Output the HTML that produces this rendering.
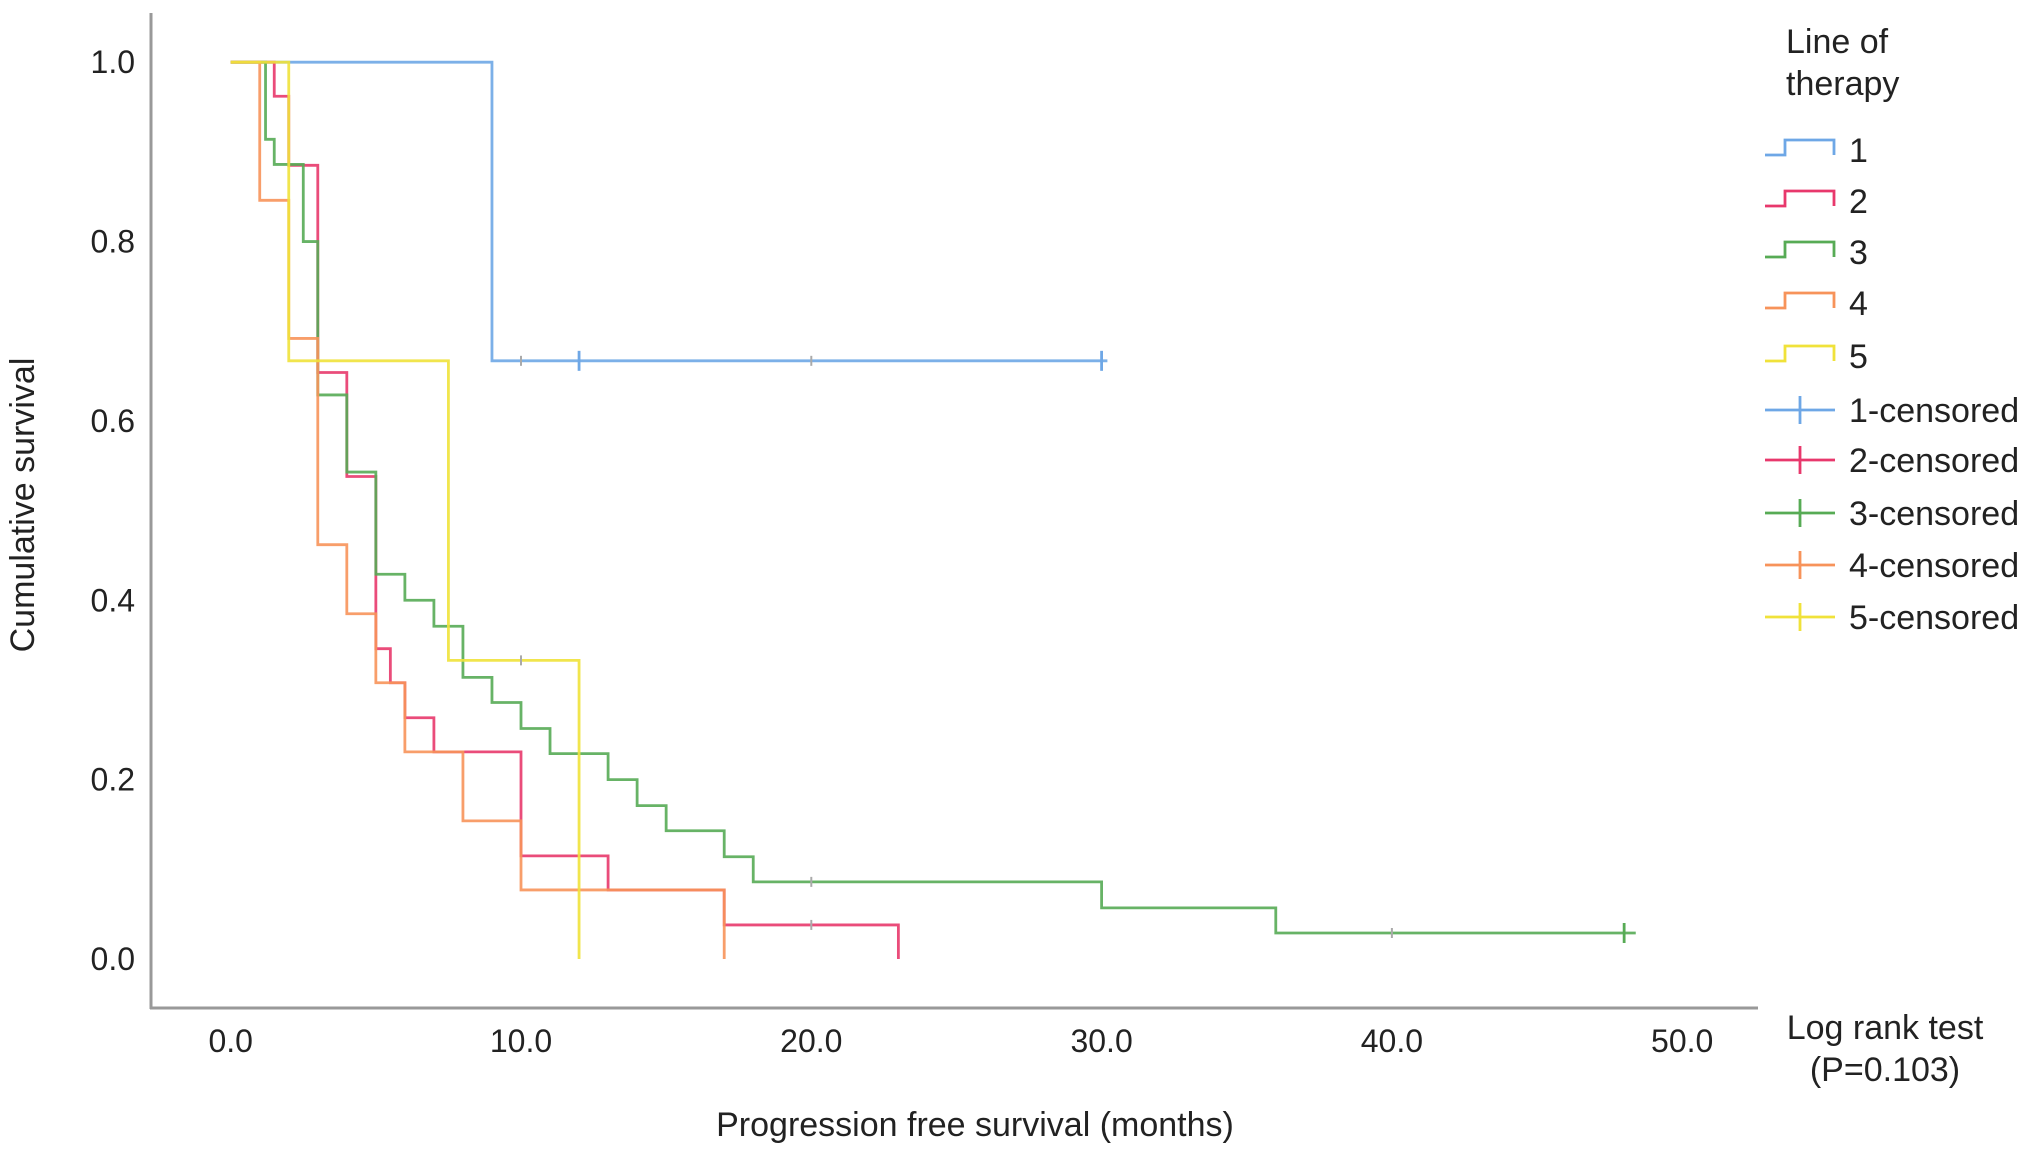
<!DOCTYPE html>
<html><head><meta charset="utf-8"><style>
body{margin:0;background:#fff;}
svg text{font-family:"Liberation Sans",Arial,sans-serif;fill:#222;}
</style></head><body>
<svg id="chart" width="2032" height="1157" viewBox="0 0 2032 1157">
<g id="axes"></g>
<g id="curves"></g>
<g id="legend"></g>
<text x="34" y="505" font-size="34" text-anchor="middle" transform="rotate(-90 34 505)">Cumulative survival</text>
<text x="975" y="1136" font-size="34" text-anchor="middle">Progression free survival (months)</text>
<text x="1885" y="1039" font-size="34" text-anchor="middle">Log rank test</text>
<text x="1885" y="1081" font-size="34" text-anchor="middle">(P=0.103)</text>
<text x="1786" y="53" font-size="34">Line of</text>
<text x="1786" y="95" font-size="34">therapy</text>
</svg>
<script>
const xTicks=[0,10,20,30,40,50];
const yTicks=[0,0.2,0.4,0.6,0.8,1.0];
const groups=["1","2","3","4","5"];
const colors=["#6ea7e6","#e8386c","#57ab55","#f7935a","#f0e23a"];
const t1=[0,9,30.2];       const s1=[1,0.667,0.667];
const t2=[0,1.5,2,3,4,5,5.5,6,7,10,13,17,23]; const s2=[1,0.962,0.885,0.654,0.538,0.346,0.308,0.269,0.231,0.115,0.077,0.038,0];
const t3=[0,1.2,1.5,2.5,3,4,5,6,7,8,9,10,11,13,14,15,17,18,30,36,48.4]; const s3=[1,0.914,0.886,0.8,0.629,0.543,0.429,0.4,0.371,0.314,0.286,0.257,0.229,0.2,0.171,0.143,0.114,0.086,0.057,0.029,0.029];
const t4=[0,1,2,3,4,5,6,8,10,17]; const s4=[1,0.846,0.692,0.462,0.385,0.308,0.231,0.154,0.077,0];
const t5=[0,2,7.5,12]; const s5=[1,0.667,0.333,0];
const censorT=[[12,30],[],[48],[],[]];
const faintT=[[10,20],[20],[20,40],[],[10]];
const times=[t1,t2,t3,t4,t5], surv=[s1,s2,s3,s4,s5];
const X=v=>230.7+v*29.03, Y=v=>959-v*896.8;
const NS="http://www.w3.org/2000/svg";
function mk(tag,at,parent){const e=document.createElementNS(NS,tag);for(const k in at)e.setAttribute(k,at[k]);parent.appendChild(e);return e;}
function sAt(i,c){const tt=times[i],ss=surv[i];let sv=ss[0];for(let k=0;k<tt.length;k++)if(tt[k]<=c)sv=ss[k];return sv;}
const axes=document.getElementById('axes');
let e=mk('line',{x1:151,y1:13,x2:151,y2:1009,stroke:'#999','stroke-width':3},axes);


e=mk('line',{x1:150,y1:1008,x2:1758,y2:1008,stroke:'#999','stroke-width':3},axes);


yTicks.forEach(v=>{const t=mk('text',{x:135,y:Y(v)+11,'font-size':32,'text-anchor':'end'},axes);t.textContent=v.toFixed(1);

});
xTicks.forEach(v=>{const t=mk('text',{x:X(v),y:1052,'font-size':32,'text-anchor':'middle'},axes);t.textContent=v.toFixed(1);

});
const curves=document.getElementById('curves');
times.forEach((tt,i)=>{const ss=surv[i];let d=`M${X(tt[0])},${Y(ss[0])}`;
for(let k=1;k<tt.length;k++){d+=` H${X(tt[k])} V${Y(ss[k])}`;}
const p=mk('path',{d:d,fill:'none',stroke:colors[i],'stroke-width':2.8,'stroke-opacity':0.9},curves);


faintT[i].forEach(c=>{const sv=sAt(i,c);
const m=mk('line',{x1:X(c),x2:X(c),y1:Y(sv)-5,y2:Y(sv)+5,stroke:'#aaa','stroke-width':2},curves);

});
censorT[i].forEach(c=>{const sv=sAt(i,c);
const m=mk('line',{x1:X(c),x2:X(c),y1:Y(sv)-10,y2:Y(sv)+10,stroke:colors[i],'stroke-width':2.8},curves);

});});
const leg=document.getElementById('legend');
const legY=[150,201,252,303,356,410,460,513,565,617];
for(let j=0;j<10;j++){const i=j%5;const y=legY[j];
const g=mk('g',{},leg);


if(j<5){mk('path',{d:`M1765,${y+5} H1785 V${y-10} H1834 V${y+5}`,fill:'none',stroke:colors[i],'stroke-width':2.8},g);}
else{mk('line',{x1:1765,x2:1835,y1:y,y2:y,stroke:colors[i],'stroke-width':2.8},g);mk('line',{x1:1800,x2:1800,y1:y-14,y2:y+14,stroke:colors[i],'stroke-width':2.8},g);}
const t=mk('text',{x:1849,y:y+12,'font-size':34},g);t.textContent=j<5?groups[i]:groups[i]+'-censored';}
</script>
</body></html>
